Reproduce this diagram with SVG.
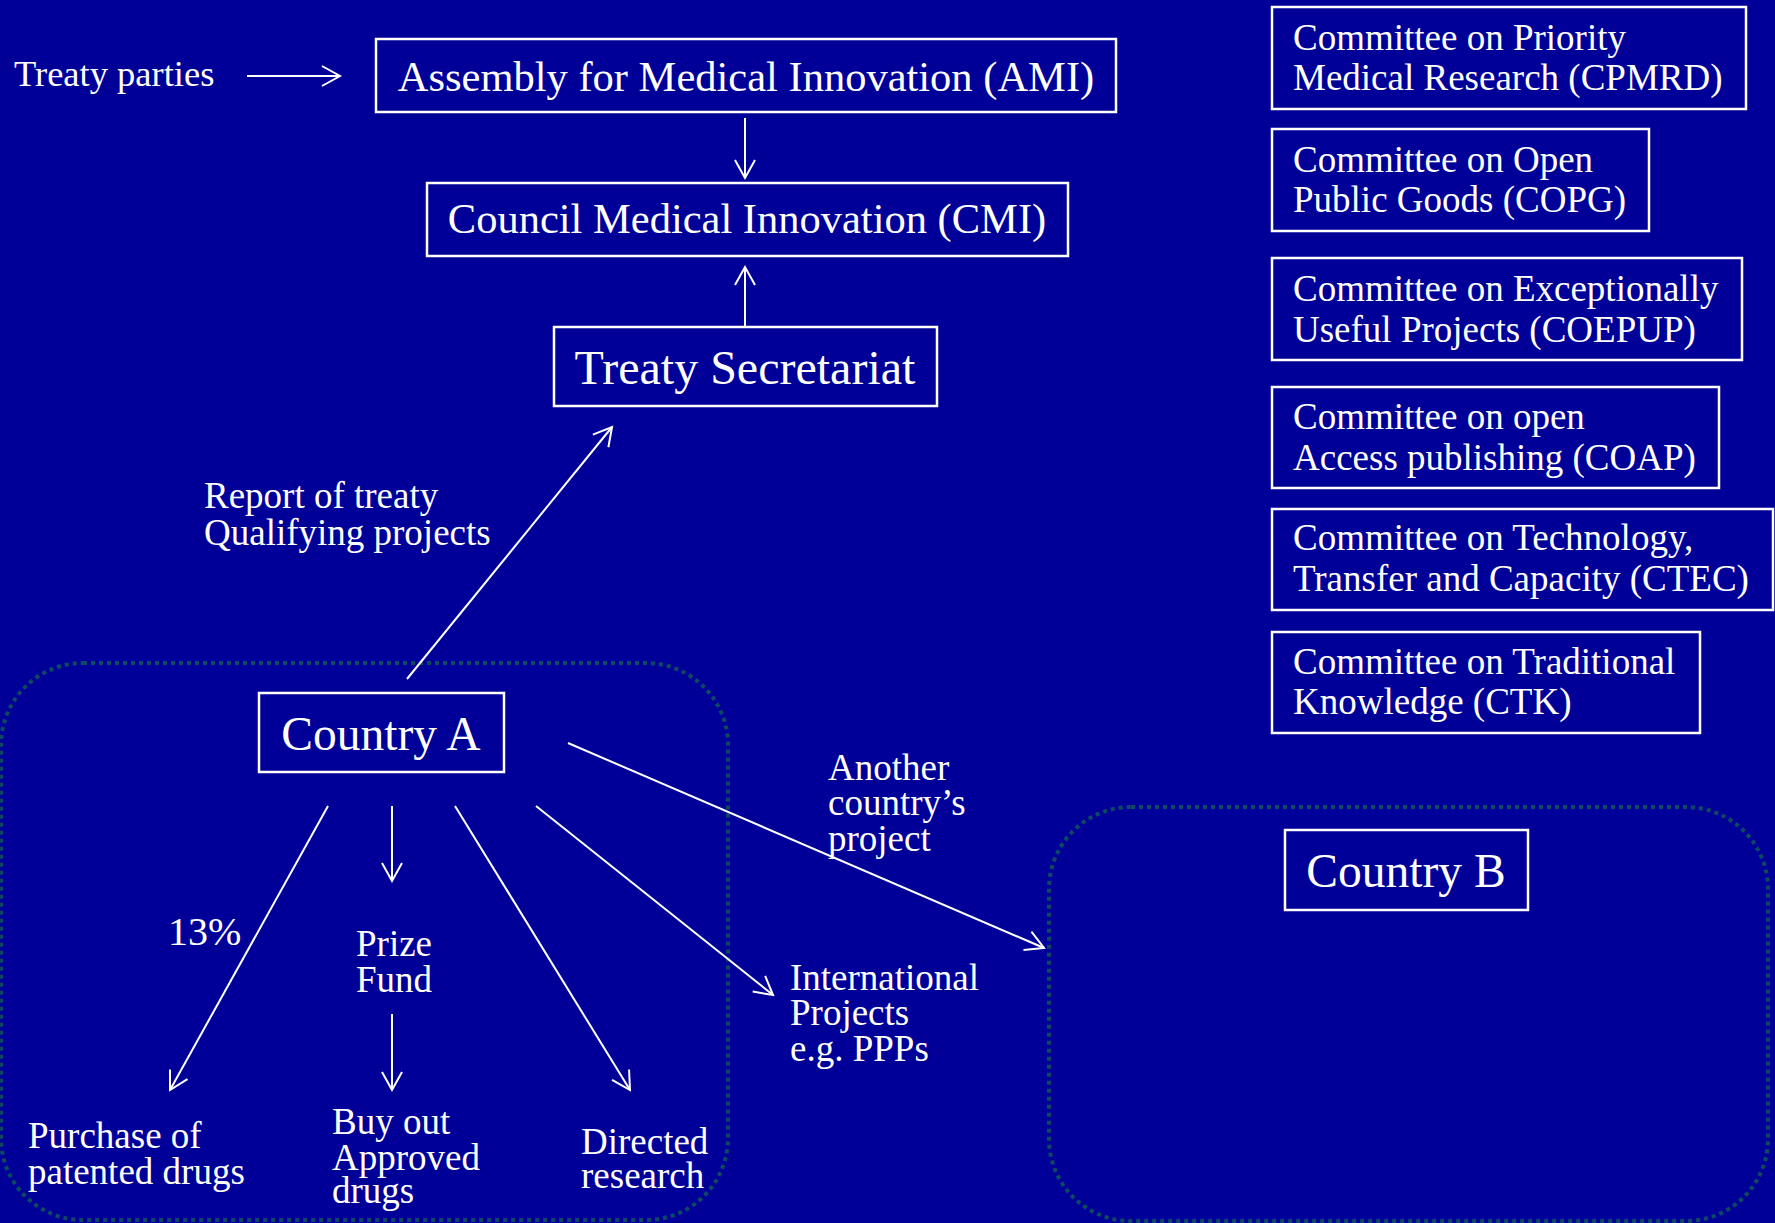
<svg xmlns="http://www.w3.org/2000/svg" width="1775" height="1223" viewBox="0 0 1775 1223">
<defs>
<marker id="ah" markerUnits="userSpaceOnUse" markerWidth="24" markerHeight="24" viewBox="-2 -12 22 24" refX="18" refY="0" orient="auto">
<path d="M0,-10 L18,0 L0,10" fill="none" stroke="#ffffff" stroke-width="2"/>
</marker>
<style>
.t{font-family:"Liberation Serif","Times New Roman",serif;fill:#ffffff;}
.box{fill:none;stroke:#ffffff;stroke-width:2.5;}
.ln{stroke:#ffffff;stroke-width:2;fill:none;marker-end:url(#ah);}
.grp{fill:none;stroke:#0b4a60;stroke-width:4;stroke-dasharray:4 4;}
</style>
</defs>
<rect x="0" y="0" width="1775" height="1223" fill="#000099"/>
<g id="groups">
<rect class="grp" x="1" y="663" width="727" height="557" rx="82" ry="82"/>
<rect class="grp" x="1049" y="807" width="719" height="414" rx="82" ry="82"/>
</g>
<g id="connectors">
<line class="ln" x1="247" y1="76" x2="340" y2="76"/>
<line class="ln" x1="745" y1="118" x2="745" y2="178"/>
<line class="ln" x1="745" y1="326" x2="745" y2="267"/>
<line class="ln" x1="407" y1="679" x2="612" y2="427"/>
<line class="ln" x1="328" y1="806" x2="170" y2="1090"/>
<line class="ln" x1="392" y1="806" x2="392" y2="881"/>
<line class="ln" x1="392" y1="1014" x2="392" y2="1090"/>
<line class="ln" x1="455" y1="806" x2="630" y2="1090"/>
<line class="ln" x1="536" y1="806" x2="773" y2="995"/>
<line class="ln" x1="568" y1="743" x2="1044" y2="948"/>
</g>
<g id="labels">
<text class="t" x="14" y="86" font-size="36.5">Treaty parties</text>
<text class="t" x="204" y="508" font-size="37">Report of treaty</text>
<text class="t" x="204" y="545" font-size="37">Qualifying projects</text>
<text class="t" x="168" y="945" font-size="40">13%</text>
<text class="t" x="356" y="956" font-size="37">Prize</text>
<text class="t" x="356" y="992" font-size="37">Fund</text>
<text class="t" x="28" y="1148" font-size="37">Purchase of</text>
<text class="t" x="28" y="1184" font-size="37">patented drugs</text>
<text class="t" x="332" y="1134" font-size="37">Buy out</text>
<text class="t" x="332" y="1170" font-size="37">Approved</text>
<text class="t" x="332" y="1203" font-size="37">drugs</text>
<text class="t" x="581" y="1154" font-size="37">Directed</text>
<text class="t" x="581" y="1188" font-size="37">research</text>
<text class="t" x="790" y="990" font-size="37">International</text>
<text class="t" x="790" y="1025" font-size="37">Projects</text>
<text class="t" x="790" y="1061" font-size="37">e.g. PPPs</text>
<text class="t" x="828" y="780" font-size="37">Another</text>
<text class="t" x="828" y="815" font-size="37">country’s</text>
<text class="t" x="828" y="851" font-size="37">project</text>
</g>
<g id="ami">
<rect class="box" x="376" y="39" width="740" height="73"/>
<text class="t" x="746" y="91" font-size="42.5" text-anchor="middle">Assembly for Medical Innovation (AMI)</text>
</g>
<g id="cmi">
<rect class="box" x="427" y="183" width="641" height="73"/>
<text class="t" x="747" y="233" font-size="42.5" text-anchor="middle">Council Medical Innovation (CMI)</text>
</g>
<g id="secretariat">
<rect class="box" x="554" y="327" width="383" height="79"/>
<text class="t" x="745" y="384" font-size="48" text-anchor="middle">Treaty Secretariat</text>
</g>
<g id="countryA">
<rect class="box" x="259" y="693" width="245" height="79"/>
<text class="t" x="381" y="750" font-size="47.5" text-anchor="middle">Country A</text>
</g>
<g id="countryB">
<rect class="box" x="1285" y="830" width="243" height="80"/>
<text class="t" x="1406" y="887" font-size="47.5" text-anchor="middle">Country B</text>
</g>
<g id="cpmrd">
<rect class="box" x="1272" y="7" width="474" height="102"/>
<text class="t" x="1293" y="50" font-size="37">Committee on Priority</text>
<text class="t" x="1293" y="90" font-size="37">Medical Research (CPMRD)</text>
</g>
<g id="copg">
<rect class="box" x="1272" y="129" width="377" height="102"/>
<text class="t" x="1293" y="172" font-size="37">Committee on Open</text>
<text class="t" x="1293" y="212" font-size="37">Public Goods (COPG)</text>
</g>
<g id="coepup">
<rect class="box" x="1272" y="258" width="470" height="102"/>
<text class="t" x="1293" y="301" font-size="37">Committee on Exceptionally</text>
<text class="t" x="1293" y="342" font-size="37">Useful Projects (COEPUP)</text>
</g>
<g id="coap">
<rect class="box" x="1272" y="387" width="447" height="101"/>
<text class="t" x="1293" y="429" font-size="37">Committee on open</text>
<text class="t" x="1293" y="470" font-size="37">Access publishing (COAP)</text>
</g>
<g id="ctec">
<rect class="box" x="1272" y="509" width="501" height="101"/>
<text class="t" x="1293" y="550" font-size="37">Committee on Technology,</text>
<text class="t" x="1293" y="591" font-size="37">Transfer and Capacity (CTEC)</text>
</g>
<g id="ctk">
<rect class="box" x="1272" y="632" width="428" height="101"/>
<text class="t" x="1293" y="674" font-size="37">Committee on Traditional</text>
<text class="t" x="1293" y="714" font-size="37">Knowledge (CTK)</text>
</g>
</svg>
